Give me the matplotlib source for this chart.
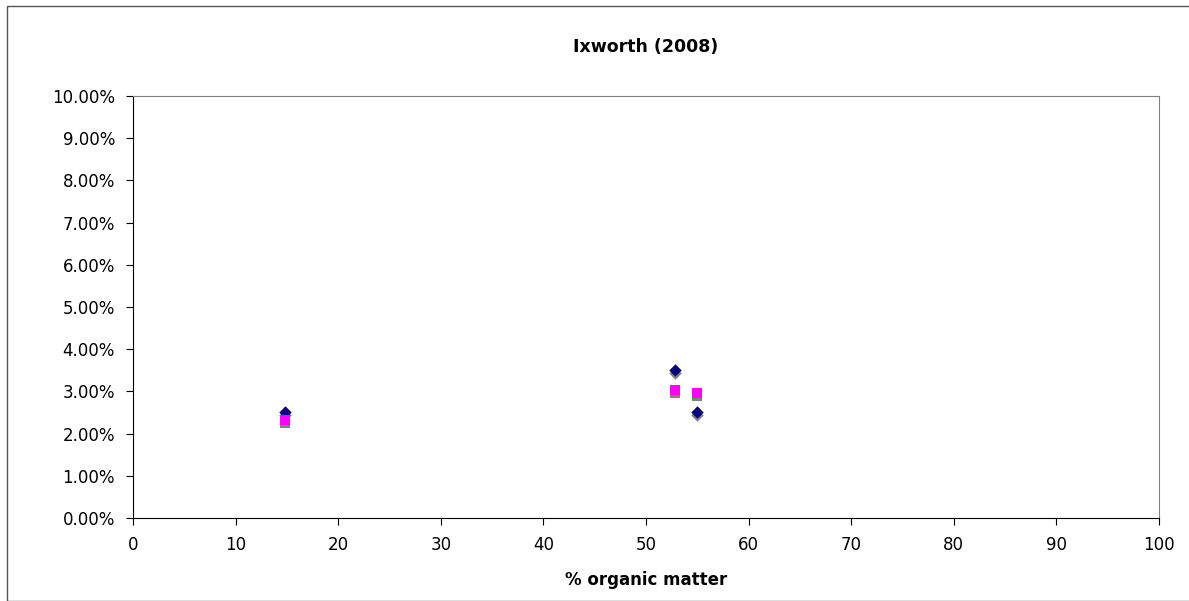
import matplotlib.pyplot as plt
from matplotlib.ticker import FuncFormatter, MultipleLocator
from matplotlib.patches import Rectangle

# organic matter (%) for each sample
organic = [14.8, 52.8, 55.0]
# four series
navy_diamond = [0.0251, 0.0350, 0.0252]
gray_diamond = [0.0245, 0.0343, 0.0245]
magenta_square = [0.0233, 0.0304, 0.0297]
gray_square = [0.0226, 0.0297, 0.0290]

fig = plt.figure(figsize=(11.89, 6.01), dpi=100)
ax = fig.add_axes([0.1119, 0.1381, 0.8629, 0.7022])

ax.scatter(organic, gray_diamond, marker='D', s=40, color='#808080', zorder=3, linewidths=0)
ax.scatter(organic, navy_diamond, marker='D', s=40, color='#000080', zorder=4, linewidths=0)
ax.scatter(organic, gray_square, marker='s', s=60, color='#808080', zorder=5, linewidths=0)
ax.scatter(organic, magenta_square, marker='s', s=60, color='#FF00FF', zorder=6, linewidths=0)

ax.set_xlim(0, 100)
ax.set_ylim(0, 0.10)
ax.xaxis.set_major_locator(MultipleLocator(10))
ax.yaxis.set_major_locator(MultipleLocator(0.01))
ax.yaxis.set_major_formatter(FuncFormatter(lambda v, p: '%.2f%%' % (v * 100)))
ax.tick_params(direction='out', length=5, labelsize=12, pad=8)

for s in ['top', 'right']:
    ax.spines[s].set_color('#808080')
for s in ['left', 'bottom']:
    ax.spines[s].set_color('black')

ax.set_xlabel('% organic matter', fontsize=12, fontweight='bold', labelpad=12)
fig.text(0.543, 0.921, 'Ixworth (2008)', ha='center', va='center', fontsize=12.5, fontweight='bold')

# chart frame
frame = Rectangle((7 / 1189, 0), 1.0, 1 - 6 / 601, transform=fig.transFigure,
                  fill=False, edgecolor='#555555', linewidth=1)
fig.patches.append(frame)

fig.savefig('out.png', dpi=100)
